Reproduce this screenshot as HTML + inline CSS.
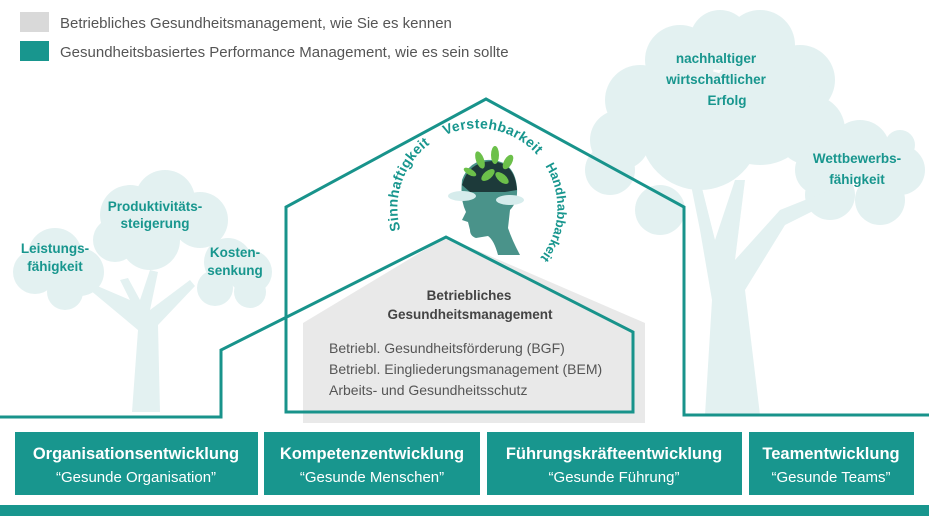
<!DOCTYPE html>
<html><head><meta charset="utf-8"><style>
body{margin:0;width:929px;height:523px;overflow:hidden;background:#fff;font-family:"Liberation Sans",sans-serif}
svg{display:block}
</style></head><body>
<svg width="929" height="523" viewBox="0 0 929 523" xmlns="http://www.w3.org/2000/svg" font-family="Liberation Sans, sans-serif">
<g fill="#e3f1f1">
  <circle cx="680" cy="60" r="35"/><circle cx="720" cy="40" r="30"/><circle cx="760" cy="45" r="35"/><circle cx="800" cy="80" r="35"/><circle cx="810" cy="130" r="35"/>
  <circle cx="640" cy="100" r="35"/><circle cx="620" cy="140" r="30"/><circle cx="700" cy="130" r="60"/><circle cx="760" cy="110" r="55"/>
  <circle cx="660" cy="210" r="25"/><circle cx="610" cy="170" r="25"/>
  <circle cx="820" cy="170" r="25"/><circle cx="860" cy="150" r="30"/><circle cx="900" cy="170" r="25"/><circle cx="880" cy="200" r="25"/><circle cx="830" cy="195" r="25"/><circle cx="900" cy="145" r="15"/>
  <path d="M700 230 L690 180 L700 180 L715 240 L735 180 L745 180 L735 260 L780 210 L830 190 L835 200 L785 225 L745 290 L760 415 L705 415 L712 300 Z"/>
  <circle cx="130" cy="215" r="30"/><circle cx="165" cy="200" r="30"/><circle cx="200" cy="220" r="28"/><circle cx="150" cy="240" r="30"/><circle cx="115" cy="240" r="22"/>
  <circle cx="55" cy="255" r="27"/><circle cx="35" cy="272" r="22"/><circle cx="80" cy="272" r="24"/><circle cx="65" cy="292" r="18"/>
  <circle cx="228" cy="262" r="24"/><circle cx="250" cy="272" r="22"/><circle cx="215" cy="288" r="18"/><circle cx="250" cy="292" r="16"/>
  <path d="M130 300 L120 280 L128 278 L140 300 L150 270 L158 272 L150 310 L190 280 L195 286 L158 325 L160 412 L132 412 L138 330 L90 290 L95 285 Z"/>
</g>
<rect x="20" y="12" width="29" height="20" fill="#d9d9d9"/>
<rect x="20" y="41" width="29" height="20" fill="#18968e"/>
<text x="60" y="28" font-size="15" fill="#555">Betriebliches Gesundheitsmanagement, wie Sie es kennen</text>
<text x="60" y="57" font-size="15" fill="#555">Gesundheitsbasiertes Performance Management, wie es sein sollte</text>
<g fill="#18968e" font-size="13.5" font-weight="bold" text-anchor="middle">
  <text x="716" y="63">nachhaltiger</text><text x="716" y="84">wirtschaftlicher</text><text x="727" y="105">Erfolg</text>
  <text x="857" y="163">Wettbewerbs-</text><text x="857" y="184">fähigkeit</text>
  <text x="155" y="211">Produktivitäts-</text><text x="155" y="228">steigerung</text>
  <text x="55" y="253">Leistungs-</text><text x="55" y="271">fähigkeit</text>
  <text x="235" y="257">Kosten-</text><text x="235" y="275">senkung</text>
</g>
<polygon points="303,323 446,237 645,323 645,423 303,423" fill="#e9e9e9"/>
<g>
  <path d="M462 180 Q470 158 492 160 Q515 162 517 188 Q518 202 510 210 L508 228 Q512 240 520 255 L498 255 Q494 240 488 236 L476 238 Q470 236 470 230 L468 222 L462 220 L466 212 Q460 200 462 180 Z" fill="#4a938a"/>
  <path d="M462 185 Q468 162 492 161 Q515 163 517 190 L505 192 L470 192 Z" fill="#1d3a3a"/>
  <g fill="#6cc04a"><ellipse cx="480" cy="160" rx="4" ry="9" transform="rotate(-20 480 160)"/><ellipse cx="495" cy="155" rx="4" ry="9"/><ellipse cx="508" cy="162" rx="4" ry="8" transform="rotate(30 508 162)"/><ellipse cx="488" cy="175" rx="4" ry="8" transform="rotate(50 488 175)"/><ellipse cx="502" cy="178" rx="4" ry="8" transform="rotate(-50 502 178)"/><ellipse cx="470" cy="172" rx="3" ry="7" transform="rotate(-60 470 172)"/></g>
  <ellipse cx="462" cy="196" rx="14" ry="5" fill="#d6ecec"/><ellipse cx="510" cy="200" rx="14" ry="5" fill="#d6ecec"/>
</g>
<defs><path id="arc" d="M 401,232 A 80 80 0 1 1 513,280"/></defs>
<text font-size="14" font-weight="bold" fill="#18968e" letter-spacing="0.3">
  <textPath href="#arc" startOffset="2">Sinnhaftigkeit</textPath>
</text>
<text font-size="14" font-weight="bold" fill="#18968e" letter-spacing="0.3">
  <textPath href="#arc" startOffset="116">Verstehbarkeit</textPath>
</text>
<text font-size="13" font-weight="bold" fill="#18968e">
  <textPath href="#arc" startOffset="230">Handhabbarkeit</textPath>
</text>
<g fill="none" stroke="#18938b" stroke-width="3" stroke-linejoin="miter">
  <polyline points="0,417 221,417 221,350 446,237 633,332 633,412 286,412 286,207 486,99 684,207 684,415 929,415"/>
</g>
<g fill="#444" text-anchor="middle" font-size="13.5" font-weight="bold">
  <text x="469" y="300">Betriebliches</text><text x="470" y="319">Gesundheitsmanagement</text>
</g>
<g fill="#555" font-size="14">
  <text x="329" y="353">Betriebl. Gesundheitsförderung (BGF)</text>
  <text x="329" y="374">Betriebl. Eingliederungsmanagement (BEM)</text>
  <text x="329" y="395">Arbeits- und Gesundheitsschutz</text>
</g>
<g fill="#18968e">
  <rect x="15" y="432" width="243" height="63"/>
  <rect x="264" y="432" width="216" height="63"/>
  <rect x="487" y="432" width="255" height="63"/>
  <rect x="749" y="432" width="165" height="63"/>
  <rect x="0" y="505" width="929" height="11"/>
</g>
<g fill="#fff" text-anchor="middle">
  <g font-size="16.5" font-weight="bold">
    <text x="136" y="459">Organisationsentwicklung</text>
    <text x="372" y="459">Kompetenzentwicklung</text>
    <text x="614" y="459">Führungskräfteentwicklung</text>
    <text x="831" y="459">Teamentwicklung</text>
  </g>
  <g font-size="15">
    <text x="136" y="482">“Gesunde Organisation”</text>
    <text x="372" y="482">“Gesunde Menschen”</text>
    <text x="614" y="482">“Gesunde Führung”</text>
    <text x="831" y="482">“Gesunde Teams”</text>
  </g>
</g>
</svg>
</body></html>
